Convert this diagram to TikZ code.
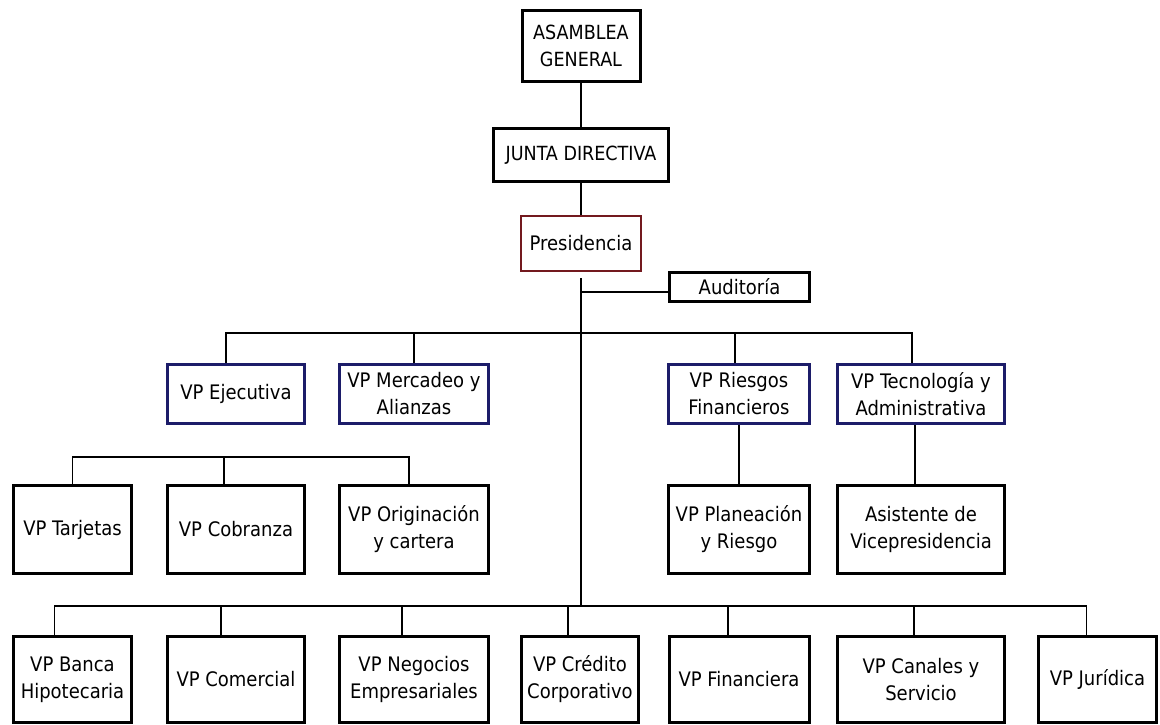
\documentclass[tikz,border=0pt]{standalone}
\usepackage{fontspec}
\setmainfont{DejaVu Sans Condensed}
\usetikzlibrary{positioning}

\definecolor{vpblue}{RGB}{28,28,105}
\definecolor{presred}{RGB}{115,25,30}

\begin{document}
\begin{tikzpicture}[x=1pt,y=-1pt,node distance=135.5pt,
  main node/.style={rectangle,draw,line width=3pt,inner sep=0pt,align=center,font=\fontsize{20}{27}\selectfont},
  top node/.style={main node,font=\fontsize{19.5}{27}\selectfont},
  vp node/.style={main node,draw=vpblue,minimum height=59},
  unit node/.style={main node,minimum height=88},
  low node/.style={main node,minimum height=86},
  link/.style={line width=1.3pt}]
  \useasboundingbox (0,0) rectangle (1160,725);
  \node[top node,minimum width=118,minimum height=71] (ag) at (581,46) {ASAMBLEA\\GENERAL};
  \node[top node,minimum width=175,minimum height=53] (jd) [below of=ag,node distance=109pt] {JUNTA DIRECTIVA};
  \node[main node,draw=presred,line width=2pt,minimum width=120,minimum height=55] (pres) [below of=jd,node distance=88.5pt] {Presidencia};
  \node[main node,minimum width=140,minimum height=29] (aud) at (739.5,287) {Auditoría};
  \node[vp node,minimum width=137] (ejec) at (236,394) {VP Ejecutiva};
  \node[vp node,minimum width=149] (merc) [right of=ejec,node distance=178pt] {VP Mercadeo y\\Alianzas};
  \node[vp node,minimum width=141] (ries) [right of=merc,node distance=325pt] {VP Riesgos\\Financieros};
  \node[vp node,minimum width=167] (tec) [right of=ries,node distance=182pt] {VP Tecnología y\\Administrativa};
  \node[unit node,minimum width=137] (cobr) [below of=ejec] {VP Cobranza};
  \node[unit node,minimum width=118] (tarj) [left of=cobr,node distance=163.5pt] {VP Tarjetas};
  \node[unit node,minimum width=149] (orig) [below of=merc] {VP Originación\\y cartera};
  \node[unit node,minimum width=141] (plan) [below of=ries] {VP Planeación\\y Riesgo};
  \node[unit node,minimum width=167] (asis) [below of=tec] {Asistente de\\Vicepresidencia};
  \node[low node,minimum width=118] (banca) [below of=tarj,node distance=150pt] {VP Banca\\Hipotecaria};
  \node[low node,minimum width=137] (come) [below of=cobr,node distance=150pt] {VP Comercial};
  \node[low node,minimum width=149] (nego) [below of=orig,node distance=150pt] {VP Negocios\\Empresariales};
  \node[low node,minimum width=117] (cred) [right of=nego,node distance=166pt] {VP Crédito\\Corporativo};
  \node[low node,minimum width=140] (fina) [below of=plan,node distance=150pt] {VP Financiera};
  \node[low node,minimum width=167] (cana) [below of=asis,node distance=150pt] {VP Canales y\\Servicio};
  \node[low node,minimum width=118] (juri) [right of=cana,node distance=176.5pt] {VP Jurídica};
  \coordinate (bus1) at (581,333);
  \coordinate (bus2) at (224,457);
  \coordinate (bus3) at (581,606);
  \draw[link] (ag) -- (jd);
  \draw[link] (jd) -- (pres);
  \draw[link] ([yshift=-6pt]pres.south) -- (pres.south |- bus3);
  \draw[link] (pres.south |- aud.west) ++(0,5) -- ([yshift=-5pt]aud.west);
  \draw[link] ([xshift=-10pt]ejec.north) |- (bus1);
  \draw[link] (merc.north) |- (bus1);
  \draw[link] ([xshift=-4pt]ries.north) |- (bus1);
  \draw[link] ([xshift=-9pt]tec.north) |- (bus1);
  \draw[link] (tarj.north) |- (bus2);
  \draw[link] ([xshift=-12pt]cobr.north) -- (bus2);
  \draw[link] ([xshift=-5pt]orig.north) |- (bus2);
  \draw[link] (ries) -- (plan);
  \draw[link] ([xshift=-6pt]tec.south) -- ([xshift=-6pt]asis.north);
  \draw[link] ([xshift=-18pt]banca.north) |- (bus3);
  \draw[link] ([xshift=-15pt]come.north) |- (bus3);
  \draw[link] ([xshift=-12pt]nego.north) |- (bus3);
  \draw[link] ([xshift=-12pt]cred.north) |- (bus3);
  \draw[link] ([xshift=-11pt]fina.north) |- (bus3);
  \draw[link] ([xshift=-7pt]cana.north) |- (bus3);
  \draw[link] ([xshift=-11pt]juri.north) |- (bus3);
\end{tikzpicture}
\end{document}
